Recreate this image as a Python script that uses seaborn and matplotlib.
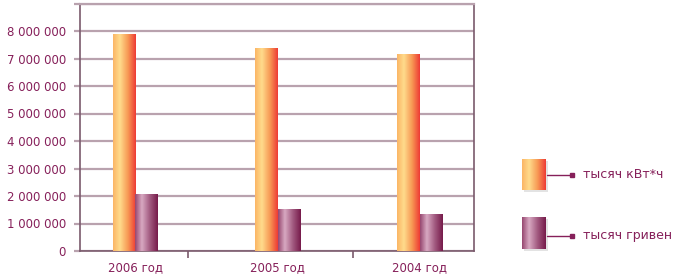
import numpy as np
import pandas as pd
import matplotlib
matplotlib.use("Agg")
import matplotlib.pyplot as plt
import seaborn as sns
from matplotlib.colors import LinearSegmentedColormap
from matplotlib.patches import Rectangle
from matplotlib.ticker import FuncFormatter

# ---- data ----
years = ["2006 год", "2005 год", "2004 год"]
series_names = ["тысяч кВт*ч", "тысяч гривен"]
kwh_values = [7890000, 7370000, 7160000]
uah_values = [2060000, 1530000, 1330000]
y_ticks = [0, 1000000, 2000000, 3000000, 4000000, 5000000, 6000000, 7000000, 8000000, 9000000]

df = pd.DataFrame({
    "year": years * 2,
    "series": [series_names[0]] * 3 + [series_names[1]] * 3,
    "value": kwh_values + uah_values,
})

text_color = "#86205a"
grid_color = "#b9a2ae"
axis_color = "#7a5a6c"
orange_stops = ["#fbb565", "#ffdb8c", "#f79a55", "#ee3a35"]
purple_stops = ["#96466f", "#d8a9c2", "#a25a80", "#761a4a"]
cmaps = [LinearSegmentedColormap.from_list("o", list(zip([0, 0.3, 0.65, 1], orange_stops))),
         LinearSegmentedColormap.from_list("p", list(zip([0, 0.3, 0.65, 1], purple_stops)))]

sns.set_theme(style="white")
plt.rcParams["font.family"] = ["DejaVu Sans"]

fig = plt.figure(figsize=(6.77, 2.80), dpi=100)
ax = fig.add_axes([80 / 677, 1 - 251 / 280, (474 - 80) / 677, (251 - 3.5) / 280])

sns.barplot(data=df, x="year", y="value", hue="series", order=years,
            hue_order=series_names, palette=["#f9a75a", "#9a4a74"],
            width=0.32, saturation=1, legend=False, ax=ax, zorder=3)

grad = np.linspace(0, 1, 256).reshape(1, -1)
for ci, cont in enumerate(ax.containers):
    for p in cont:
        x0, y0 = p.get_x(), p.get_y()
        w, h = p.get_width(), p.get_height()
        im = ax.imshow(grad, cmap=cmaps[ci], extent=[x0, x0 + w, y0, y0 + h],
                       aspect="auto", zorder=3.5, interpolation="bilinear")
        im.set_clip_path(p)
        p.set_edgecolor("none")

ax.set_xlim(-0.39, 2.38)
ax.set_ylim(0, 9000000)
ax.set_yticks(y_ticks)
ax.yaxis.set_major_formatter(FuncFormatter(
    lambda v, pos: "" if v >= 9000000 else f"{int(v):,}".replace(",", " ")))
ax.grid(axis="y", color=grid_color, lw=1.6, zorder=1)
ax.grid(axis="x", visible=False)
ax.set_xlabel("")
ax.set_ylabel("")

ax.tick_params(axis="y", length=4, width=1.6, color=grid_color, colors=text_color,
               labelsize=8.5, pad=6, left=True)
ax.tick_params(axis="y", color=grid_color)
ax.tick_params(axis="x", length=0, colors=text_color, labelsize=8.5, pad=7)
ax.set_xticks([0.37, 1.53], minor=True)
ax.tick_params(axis="x", which="minor", length=5, width=1.2, color=axis_color, bottom=True)

for s in ["left", "right", "bottom"]:
    ax.spines[s].set_color(axis_color)
    ax.spines[s].set_linewidth(1.2)
ax.spines["top"].set_color(grid_color)
ax.spines["top"].set_linewidth(1.6)

# ---- legend (figure pixel coords) ----
lax = fig.add_axes([0, 0, 1, 1])
lax.set_xlim(0, 677)
lax.set_ylim(280, 0)
lax.axis("off")
leg_rows = [(159, 190, 175), (217, 249, 236)]
for i, (top, bot, ly) in enumerate(leg_rows):
    lax.add_patch(Rectangle((524, top + 2), 24, bot - top, color="#c8c8c8", alpha=0.5, lw=0))
    im = lax.imshow(grad, cmap=cmaps[i], extent=[522, 546, bot, top], aspect="auto",
                    interpolation="bilinear", zorder=2)
    lax.plot([547, 572], [ly, ly], color=text_color, lw=1, zorder=3)
    lax.plot([572], [ly], marker="s", ms=3, color=text_color, zorder=3)
    lax.text(583, ly, series_names[i], color=text_color, fontsize=9, va="center", ha="left")
lax.set_xlim(0, 677)
lax.set_ylim(280, 0)

fig.savefig("out.png", dpi=100)
